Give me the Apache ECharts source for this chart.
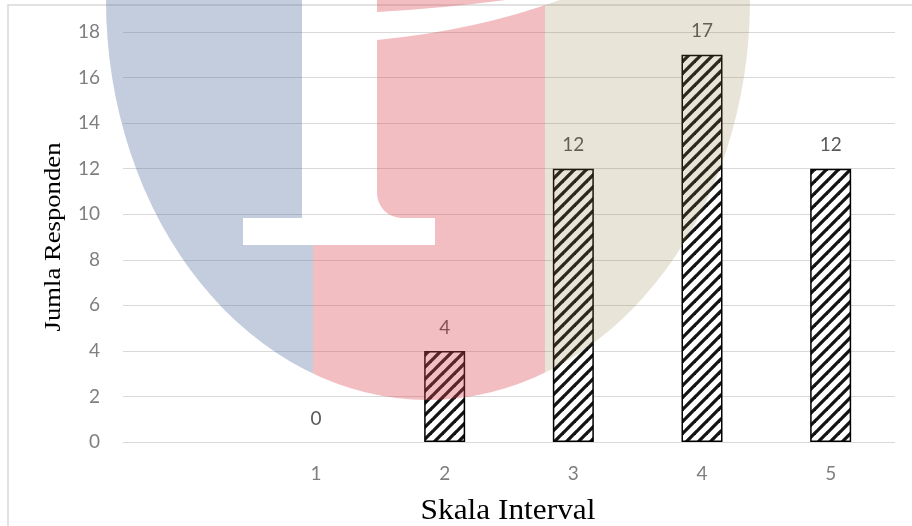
<!DOCTYPE html>
<html>
<head>
<meta charset="utf-8">
<script src="https://cdn.jsdelivr.net/npm/echarts@6/dist/echarts.min.js"></script>
<style>
html,body{margin:0;padding:0;background:#ffffff;}
#chart{width:912px;height:526px;}
</style>
</head>
<body>
<div id="chart"></div>
<script>
// ---- data ----
const categories = ['', '1', '2', '3', '4', '5'];
const respondents = [null, 0, 4, 12, 17, 12];
const yMin = 0;
const yMax = 18;
const yInterval = 2;
const xAxisTitle = 'Skala Interval';
const yAxisTitle = 'Jumla Responden';

// ---- hatch pattern (wide upward diagonal) ----
function makeHatch() {
  const s = 12;
  const c = document.createElement('canvas');
  c.width = s; c.height = s;
  const g = c.getContext('2d');
  g.fillStyle = '#ffffff';
  g.fillRect(0, 0, s, s);
  g.strokeStyle = '#141414';
  g.lineWidth = 3.3;
  g.lineCap = 'square';
  for (let k = -s; k <= s; k += s) {
    g.beginPath();
    g.moveTo(k - 2, s + 2);
    g.lineTo(k + s + 2, -2);
    g.stroke();
  }
  return c;
}

// ---- decorative watermark (drawn as an overlay image) ----
function makeWatermark() {
  const c = document.createElement('canvas');
  c.width = 912; c.height = 526;
  const g = c.getContext('2d');
  g.save();
  g.beginPath();
  g.ellipse(428, 0, 322, 400, 0, 0, Math.PI * 2);
  g.clip();
  g.fillStyle = 'rgba(86,112,161,0.35)';
  g.fillRect(0, 0, 313, 526);
  g.fillStyle = 'rgba(218,69,81,0.35)';
  g.fillRect(313, 0, 232, 526);
  g.fillStyle = 'rgba(140,120,55,0.2)';
  g.fillRect(545, 0, 400, 526);
  g.restore();
  // white letter shape cut out
  g.globalCompositeOperation = 'destination-out';
  g.fillStyle = '#000';
  g.fillRect(302, -10, 75, 230);      // stem
  g.fillRect(243, 218, 192, 27);      // foot
  g.beginPath();                       // fillet
  g.moveTo(377, 193); g.lineTo(377, 218); g.lineTo(402, 218);
  g.arc(402, 193, 25, Math.PI / 2, Math.PI, false);
  g.closePath(); g.fill();
  g.beginPath();                       // top arc band
  g.moveTo(377, 12);
  g.quadraticCurveTo(450, 8, 520, -2);
  g.lineTo(565, -2);
  g.quadraticCurveTo(480, 30, 377, 40);
  g.closePath(); g.fill();
  return c;
}

const chart = echarts.init(document.getElementById('chart'), null, {renderer: 'canvas'});
const hatch = makeHatch();
const watermark = makeWatermark();

// zero-height bars get no outline (only their label)
const barData = respondents.map(v => (v === 0 ? {value: v, itemStyle: {borderWidth: 0}} : v));

const option = {
  backgroundColor: '#ffffff',
  animation: false,
  grid: {left: 123, right: 17, top: 32, bottom: 84, containLabel: false},
  xAxis: {
    type: 'category',
    data: categories,
    axisLine: {show: false},
    axisTick: {show: false},
    axisLabel: {color: '#7f7f7f', fontSize: 19, fontFamily: 'Lato', margin: 22}
  },
  yAxis: {
    type: 'value',
    min: yMin, max: yMax, interval: yInterval,
    axisLine: {show: false},
    axisTick: {show: false},
    axisLabel: {color: '#7f7f7f', fontSize: 19, fontFamily: 'Lato', margin: 23},
    splitLine: {lineStyle: {color: '#d9d9d9', width: 1}}
  },
  series: [{
    type: 'bar',
    data: barData,
    barWidth: 41,
    itemStyle: {
      color: {image: hatch, repeat: 'repeat'},
      borderColor: '#000000',
      borderWidth: 1.5
    },
    label: {
      show: true,
      position: 'top',
      distance: 14,
      color: '#595959',
      fontSize: 19,
      fontFamily: 'Lato'
    }
  }],
  graphic: [
    {
      type: 'rect', z: 0,
      shape: {x: 8, y: 5, width: 1000, height: 700},
      style: {fill: 'none', stroke: '#d9d9d9', lineWidth: 1.5},
      silent: true
    },
    {
      type: 'text', z: 50,
      x: 508, y: 511,
      scaleX: 1.08,
      style: {
        text: xAxisTitle, fontSize: 29, fontFamily: 'Liberation Serif', fill: '#000000',
        textAlign: 'center', textVerticalAlign: 'middle', align: 'center', verticalAlign: 'middle'
      }
    },
    {
      type: 'text', z: 50,
      x: 54, y: 237,
      rotation: Math.PI / 2,
      scaleX: 1.16,
      style: {
        text: yAxisTitle, fontSize: 23, fontFamily: 'Liberation Serif', fill: '#000000',
        textAlign: 'center', textVerticalAlign: 'middle', align: 'center', verticalAlign: 'middle'
      }
    },
    {
      type: 'image', z: 100, silent: true,
      left: 0, top: 0,
      style: {image: watermark, x: 0, y: 0, width: 912, height: 526}
    }
  ]
};
chart.setOption(option);
</script>
</body>
</html>
